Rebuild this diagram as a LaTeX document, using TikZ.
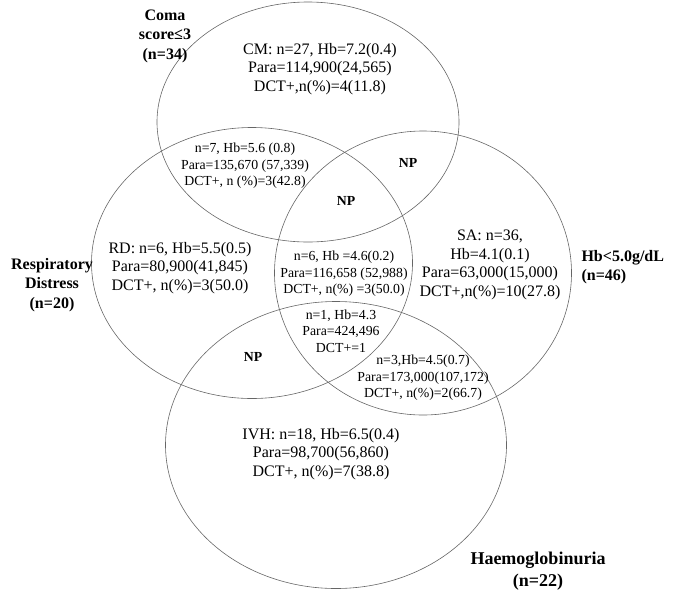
\documentclass[tikz,border=0pt]{standalone}
\usepackage{fontspec}
\setmainfont{Liberation Serif}
\usetikzlibrary{shapes.geometric}

\begin{document}
\begin{tikzpicture}[x=1pt, y=-1pt,
   set/.style={draw=black!60, ellipse, inner sep=0pt, line width=0.6pt},
   big/.style={align=center, font=\fontsize{16}{18.5}\selectfont},
   small/.style={align=center, font=\fontsize{13.8}{16.5}\selectfont},
   lbl/.style={align=center, font=\fontsize{16}{19.5}\selectfont\bfseries},
   np/.style={font=\fontsize{13.8}{16}\selectfont\bfseries}]
\useasboundingbox (0,0) rectangle (685,598);
\node[set, minimum width=302pt, minimum height=240pt] (coma) at (308,122) {};
\node[set, minimum width=321pt, minimum height=271pt] (rd) at (252,263) {};
\node[set, minimum width=297pt, minimum height=284pt] (sa) at (423,273) {};
\node[set, minimum width=341pt, minimum height=287pt] (ivh) at (336,445) {};

\node[lbl] (comalbl) at (165,36) {Coma\\score≤3\\(n=34)};
\node[lbl] (rdlbl) at (52,285) {Respiratory\\Distress\\(n=20)};
\node[lbl, align=left, anchor=west] (salbl) at (578,267) {Hb<5.0g/dL\\(n=46)};
\node[lbl, font=\fontsize{18}{22}\selectfont\bfseries] (ivhlbl) at (538,571) {Haemoglobinuria\\(n=22)};

\node[big] (cm) at (320,69) {CM: n=27, Hb=7.2(0.4)\\Para=114,900(24,565)\\DCT+,n(\%)=4(11.8)};
\node[small] (comard) at (245,166) {n=7, Hb=5.6 (0.8)\\Para=135,670 (57,339)\\DCT+, n (\%)=3(42.8)};
\node[np] (npcomasa) at (408,163) {NP};
\node[np] (npall) at (346,201) {NP};
\node[big] (rdonly) at (180,268) {RD: n=6, Hb=5.5(0.5)\\Para=80,900(41,845)\\DCT+, n(\%)=3(50.0)};
\node[small] (rdsa) at (344,274) {n=6, Hb =4.6(0.2)\\Para=116,658 (52,988)\\DCT+, n(\%) =3(50.0)};
\node[small] (rdsaivh) at (341,331) {n=1, Hb=4.3\\Para=424,496\\DCT+=1};
\node[np] (nprdivh) at (253,357) {NP};
\node[big] (saonly) at (490,265) {SA: n=36,\\Hb=4.1(0.1)\\Para=63,000(15,000)\\DCT+,n(\%)=10(27.8)};
\node[small] (saivh) at (423,378) {n=3,Hb=4.5(0.7)\\Para=173,000(107,172)\\DCT+, n(\%)=2(66.7)};
\node[big] (ivhonly) at (321,454) {IVH: n=18, Hb=6.5(0.4)\\Para=98,700(56,860)\\DCT+, n(\%)=7(38.8)};
\end{tikzpicture}
\end{document}
